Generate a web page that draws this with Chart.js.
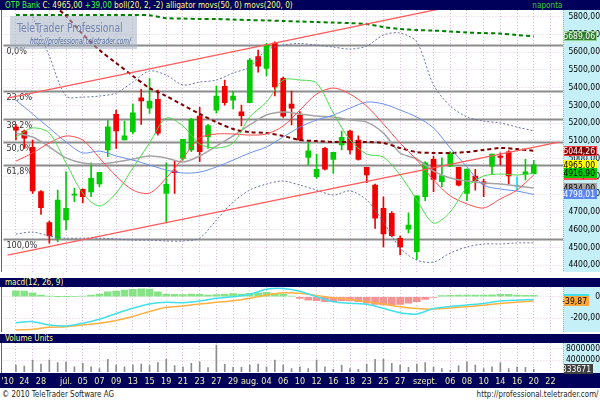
<!DOCTYPE html>
<html>
<head>
<meta charset="utf-8">
<title>OTP Bank</title>
<script src="https://cdn.jsdelivr.net/npm/chart.js@4.4.1/dist/chart.umd.min.js"></script>
<style>
  body { margin: 0; background: #fff; }
  #page { position: relative; width: 600px; height: 400px; overflow: hidden; background: #fff;
          font-family: "DejaVu Sans Condensed", "Liberation Sans", sans-serif; }
  canvas { position: absolute; left: 0; }
  .hdr { position: absolute; left: 0; width: 600px; background: #00005a; color: #ffff80;
         font-size: 9px; line-height: 10px; white-space: nowrap; }
  .hdr span.t { position: absolute; left: 5px; top: 0; transform: scaleX(0.9); transform-origin: left top; }
  #wm { position: absolute; left: 10px; top: 16px; width: 127px; height: 33px;
        background: rgba(168, 178, 196, 0.55); white-space: nowrap; overflow: hidden; }
  #wm .big { position: absolute; left: 7px; top: 5px; font-size: 12px; color: rgba(110, 130, 175, 0.95);
             transform: scaleX(0.86); transform-origin: left top; }
  #wm .url { position: absolute; left: 20px; top: 21px; font-size: 8px; font-style: italic; color: rgba(70, 95, 150, 0.9);
             transform: scaleX(0.82); transform-origin: left top; }
  .foot { position: absolute; top: 389px; font-size: 9px; color: #222; white-space: nowrap; transform: scaleX(0.88); }
</style>
</head>
<body>
<div id="page">
  <div class="hdr" style="top:0;height:10px;">
    <span class="t" id="title"></span>
    <span style="position:absolute;right:38px;top:0;color:#30d030;transform:scaleX(0.9);transform-origin:right top">naponta</span>
  </div>
  <canvas id="priceChart" width="600" height="262" style="top:10px"></canvas>
  <div class="hdr" style="top:278px;height:9px;"><span class="t" style="top:-1px">macd(12, 26, 9)</span></div>
  <canvas id="macdChart" width="600" height="45" style="top:287px"></canvas>
  <div class="hdr" style="top:334px;height:9px;"><span class="t" style="top:-1px">Volume Units</span></div>
  <canvas id="volChart" width="600" height="45" style="top:343px"></canvas>
  <div id="wm"><div class="big">TeleTrader Professional</div><div class="url">http://professional.teletrader.com/</div></div>
  <div class="foot" style="left:2px;transform-origin:left top">© 2010 TeleTrader Software AG</div>
  <div class="foot" style="right:2px;transform-origin:right top">http://professional.teletrader.com/</div>
</div>
<script>
// trading days on the axis (one empty day before, three after the data)
const dates = ['06-22','06-23','06-24','06-25','06-28','06-29','06-30','07-01','07-02','07-05',
  '07-06','07-07','07-08','07-09','07-12','07-13','07-14','07-15','07-16','07-19',
  '07-20','07-21','07-22','07-23','07-26','07-27','07-28','07-29','07-30','08-02',
  '08-03','08-04','08-05','08-06','08-09','08-10','08-11','08-12','08-13','08-16',
  '08-17','08-18','08-19','08-23','08-24','08-25','08-26','08-27','08-30','08-31',
  '09-01','09-02','09-03','09-06','09-07','09-08','09-09','09-10','09-13','09-14',
  '09-15','09-16','09-17','09-20','09-21','09-22','09-23'];
const tickText = {
  '06-22': "'10", '06-24': '24', '06-28': '28', '07-01': 'júl.', '07-05': '05', '07-07': '07',
  '07-09': '09', '07-13': '13', '07-15': '15', '07-19': '19', '07-21': '21', '07-23': '23',
  '07-27': '27', '07-29': '29', '08-02': 'aug.', '08-04': '04', '08-06': '06', '08-10': '10',
  '08-12': '12', '08-16': '16', '08-18': '18', '08-23': '23', '08-25': '25', '08-27': '27',
  '09-01': 'szept.', '09-06': '06', '09-08': '08', '09-10': '10', '09-14': '14', '09-16': '16',
  '09-20': '20', '09-22': '22'
};
const priceTicks = [4400, 4500, 4600, 4700, 4800, 4900, 5000, 5100, 5200, 5300, 5400, 5500, 5600, 5700, 5800];
const macdTicks = [-200, 0];
const volTicks = [4000000, 8000000];

// daily candles, 06-23 .. 09-20
const opens  = [5178,5156,5064,4814,4639,4551,4654,4794,4827,4813,4857,5049,5250,5105,5152,5343,5284,5334,4804,4930,
                5002,5049,5240,5124,5274,5408,5330,5264,5315,5575,5509,5652,5453,5308,5246,5007,4898,5058,4996,5077,
                5156,5105,4951,4851,4720,4692,4551,4603,4475,4785,4996,4870,4958,4951,4804,4902,4870,4958,5015,5039,
                4843,4912,4915];
const highs  = [5193,5161,5105,4820,4648,4823,4926,4833,4830,4977,4923,5218,5274,5212,5308,5391,5453,5387,4977,4987,
                5109,5227,5289,5193,5409,5443,5381,5302,5565,5612,5650,5659,5460,5381,5265,5089,5026,5064,5036,5155,
                5161,5128,4951,4857,4785,4701,4564,4695,4791,4983,5015,5005,5039,4951,4941,4940,4883,5026,5033,5045,
                4898,4996,4990];
const lows   = [5105,5058,4804,4686,4523,4532,4598,4757,4751,4785,4842,5011,5058,5105,5139,5193,5255,5133,4639,4804,
                4992,5039,4983,5058,5257,5302,5280,5184,5315,5488,5466,5353,5233,5190,5100,4964,4889,4936,4917,5049,
                5026,4992,4864,4607,4503,4560,4457,4582,4432,4763,4814,4842,4955,4846,4763,4823,4785,4913,4964,4857,
                4823,4880,4913];
const closes = [5161,5116,4818,4723,4564,4767,4720,4800,4785,4889,4923,5180,5157,5128,5259,5325,5325,5143,4855,4921,
                5109,5222,5039,5186,5353,5315,5353,5243,5556,5522,5640,5405,5240,5284,5105,5044,4940,4940,5036,5120,
                5049,4996,4908,4664,4575,4566,4503,4626,4791,4977,4883,4904,5030,4851,4941,4875,4857,5026,5007,4902,
                4843,4926,4965];
const volumes = [2300000,1900000,4000000,2600000,4000000,3100000,3300000,1700000,2900000,1700000,1100000,4200000,2300000,
                 1700000,2300000,2600000,2100000,3100000,4200000,2100000,1700000,2900000,3400000,1400000,9100000,2500000,
                 1500000,1500000,2300000,2600000,1700000,4000000,2300000,1100000,1700000,1100000,4000000,1700000,800000,
                 2300000,1100000,800000,2600000,4200000,4200000,2900000,2300000,1500000,2600000,3100000,1700000,1100000,
                 600000,2000000,3400000,2300000,1100000,1700000,3100000,1100000,1700000,1500000,833671];

// indicators, read every second day starting 06-23
const movs200   = [5810,5810,5810,5810,5810,5810,5810,5810,5808,5792,5790,5787,5787,5784,5781,5779,
                   5776,5773,5770,5767,5764,5759,5742,5731,5725,5722,5717,5711,5708,5705,5697,5689.06];
const movs50    = [null,null,5888,5804,5702,5612,5539,5466,5398,5353,5302,5252,5206,5167,5150,5144,
                   5128,5105,5099,5094,5094,5094,5088,5060,5037,5032,5032,5037,5049,5060,5054,5044.26];
const bollUpper = [null,5800,5578,5353,5347,5353,5370,5432,5494,5471,5415,5432,5443,5483,5516,5612,
                   5640,5649,5640,5629,5618,5635,5697,5708,5657,5415,5297,5235,5212,5201,5178,5156];
const bollMid   = [5144,5122,5066,5004,4975,4970,4981,4998,5015,5004,4981,5015,5071,5128,5190,5246,
                   5263,5252,5240,5235,5218,5206,5144,5032,4998,4930,4891,4874,4863,4857,4846,4834];
const bollLower = [4575,4586,4564,4552,4552,4552,4547,4541,4541,4536,4536,4552,4654,4755,4823,4857,
                   4874,4851,4823,4795,4818,4767,4643,4496,4428,4417,4468,4502,4519,4519,4525,4525];
const jaw       = [5330,5252,5173,5094,5032,5043,5015,4992,4964,4936,4919,4924,4953,4992,5032,5066,
                   5122,5178,5218,5246,5285,5319,5308,5274,5234,5173,5060,4953,4851,4829,4817,4798.01];
const teeth     = [4986,5032,5088,5128,5105,5004,4902,4823,4806,4891,5004,5116,5139,5139,5133,5139,
                   5184,5274,5364,5398,5364,5296,5195,5088,4992,4880,4790,4745,4722,4773,4823,4908];
const lips      = [5122,5173,5144,4975,4806,4733,4806,4947,5088,5229,5184,5083,5060,5088,5235,5319,
                   5443,5443,5426,5257,5105,5026,5009,4908,4767,4637,4699,4840,4902,4913,4908,4916.9];
const macdLine  = [-241,-231,-262,-271,-246,-209,-156,-107,-68,-52,-56,-40,-15,0,22,69,
                   76,51,0,-46,-61,-70,-107,-148,-160,-109,-91,-77,-63,-40,-32,-25];
const signalLine = [-308,-302,-283,-278,-262,-246,-220,-183,-137,-98,-86,-68,-52,-38,-15,16,
                    36,31,11,-9,-26,-46,-68,-93,-110,-115,-105,-92,-78,-63,-51,-39.87];
const macdHist  = [55,52,37,16,6,1,1,2,6,16,25,46,52,62,68,74,71,46,25,22,19,25,22,16,19,25,28,25,31,37,40,31,22,6,
                   -15,-31,-37,-46,-46,-37,-40,-46,-61,-71,-77,-77,-71,-61,-46,-24,-6,10,12,14,14,15,16,18,22,22,16,12,12];

// trend channel and fibonacci retracement
const upperTrendDates = ['06-22', '09-16'], upperTrendVals = [5341, 5934];
const lowerTrendDates = ['06-22', '09-23'], lowerTrendVals = [4456, 5093];
const fibHigh = 5640, fibLow = 4547;
const fibRatios = [0, 23.6, 38.2, 50, 61.8, 100];

const FONT = '"DejaVu Sans Condensed", "Liberation Sans", sans-serif';
const N = dates.length;
const fmt2 = v => v.toFixed(2).replace('.', ',');

function daily(vals) {               // first candle is the second axis day
  const out = new Array(N).fill(null);
  vals.forEach((v, i) => { out[i + 1] = v; });
  return out;
}
function everyOther(vals) {
  const out = new Array(N).fill(null);
  vals.forEach((v, i) => { out[1 + 2 * i] = v; });
  return out;
}
function twoPoint(ds, vals) {
  const out = new Array(N).fill(null);
  ds.forEach((d, i) => { out[dates.indexOf(d)] = vals[i]; });
  return out;
}
function line(data, color, width, dash) {
  return { type: 'line', data, borderColor: color, borderWidth: width, borderDash: dash || [],
           pointRadius: 0, tension: 0.3, spanGaps: true, fill: false, order: 0 };
}

const candleColors = daily(closes.map((c, i) => c > opens[i] ? '#00cc00' : (c < opens[i] ? '#f00000' : '#00dcff')));
const bodies = daily(opens.map((o, i) => [o, closes[i]]));
const wicks = daily(lows.map((l, i) => [l, highs[i]]));

document.getElementById('title').innerHTML =
  '<span style="color:#40ff40">OTP Bank</span> C: ' + fmt2(closes[closes.length - 1]) +
  ' <span style="color:#40ff40">+' + fmt2(closes[closes.length - 1] - closes[closes.length - 2]) + '</span>' +
  ' boll(20, 2, -2) alligator movs(50, 0) movs(200, 0)';

// ---- shared pieces ----
function xScale(showTicks) {
  return {
    offset: true,
    grid: { offset: false, drawTicks: false, lineWidth: 1,
            color: c => (c.index % 2 === 1 ? '#d8c0d8' : 'rgba(0,0,0,0)') },
    border: { display: false, dash: [1, 2] },
    ticks: showTicks
      ? { autoSkip: false, maxRotation: 0, minRotation: 0, padding: 3, color: '#ececb0',
          font: { family: FONT, size: 9 }, callback: (v, i) => tickText[dates[i]] || '' }
      : { display: false },
    afterFit: s => { s.height = showTicks ? 15 : 0; s.paddingLeft = 0; s.paddingRight = 0; }
  };
}
function yScale(min, max, ticks, fmt, pad) {
  return {
    position: 'right', min, max,
    afterBuildTicks: s => { s.ticks = ticks.map(v => ({ value: v })); },
    afterFit: s => { s.width = 37; s.paddingTop = 0; s.paddingBottom = 0; },
    grid: { drawTicks: false, color: '#e2d0e2', lineWidth: 1 },
    border: { display: false, dash: [1, 2] },
    ticks: { color: '#000', padding: pad, crossAlign: 'far', font: { family: FONT, size: 8.5 }, callback: fmt }
  };
}
const panelBg = {
  id: 'panelBg',
  beforeDraw(chart) {
    const { ctx, chartArea: a, width, height } = chart;
    ctx.save();
    ctx.fillStyle = '#c6f0f8';
    ctx.fillRect(a.right, 0, width - a.right, a.bottom);
    ctx.strokeStyle = '#d0b840';
    ctx.setLineDash([1, 1]);
    ctx.beginPath(); ctx.moveTo(a.right + 0.5, 0); ctx.lineTo(a.right + 0.5, a.bottom); ctx.stroke();
    ctx.setLineDash([]);
    ctx.strokeStyle = '#606078';
    ctx.beginPath(); ctx.moveTo(1.5, a.top); ctx.lineTo(1.5, a.bottom); ctx.stroke();
    if (chart.canvas.id === 'volChart') {
      ctx.fillStyle = '#00005a';
      ctx.fillRect(0, a.bottom, width, height - a.bottom);
    }
    ctx.restore();
  }
};
function valueBoxes(boxes, boxWidth) {
  return {
    id: 'valueBoxes',
    afterDraw(chart) {
      const { ctx, chartArea: a, width } = chart;
      const y = chart.scales.y;
      const w = boxWidth || (width - a.right - 4);
      ctx.save();
      ctx.font = '8.5px ' + FONT;
      ctx.textBaseline = 'middle';
      ctx.textAlign = 'right';
      boxes.forEach(b => {
        const py = Math.round(y.getPixelForValue(b.value));
        ctx.fillStyle = b.bg;
        ctx.fillRect(a.right + 1, py - 5, w, 10);
        if (b.edge) {
          ctx.strokeStyle = b.edge; ctx.lineWidth = 1;
          ctx.strokeRect(a.right + 1.5, py - 4.5, w - 1, 9);
        }
        ctx.fillStyle = b.fg;
        ctx.fillText(b.text, a.right + w - 1, py + 0.5);
      });
      ctx.restore();
    }
  };
}
const fibPlugin = {
  id: 'fib',
  beforeDatasetsDraw(chart) {
    const { ctx, chartArea: a } = chart;
    const y = chart.scales.y;
    ctx.save();
    ctx.font = '9px ' + FONT;
    ctx.textBaseline = 'top';
    fibRatios.forEach(r => {
      const py = Math.round(y.getPixelForValue(fibHigh - (fibHigh - fibLow) * r / 100)) + 0.5;
      ctx.strokeStyle = '#8c8c8c'; ctx.lineWidth = 2;
      ctx.beginPath(); ctx.moveTo(a.left, py); ctx.lineTo(a.right, py); ctx.stroke();
      ctx.fillStyle = '#333';
      ctx.fillText(r.toFixed(1).replace('.', ',') + '%', a.left + 3, py + 2);
    });
    ctx.restore();
  }
};
const common = {
  responsive: false, animation: false,
  layout: { padding: { left: 3.4, right: 0, top: 0, bottom: 0 } },
  plugins: { legend: { display: false }, tooltip: { enabled: false } }
};

// ---- price panel ----
new Chart(document.getElementById('priceChart'), {
  type: 'bar',
  data: {
    labels: dates,
    datasets: [
      line(twoPoint(upperTrendDates, upperTrendVals), '#ff5a5a', 1.3),
      line(twoPoint(lowerTrendDates, lowerTrendVals), '#ff5a5a', 1.3),
      line(everyOther(lips), '#48dc48', 1),
      line(everyOther(teeth), '#ff4c4c', 1),
      line(everyOther(jaw), '#6890f0', 1),
      line(everyOther(movs50), '#800000', 2, [4, 3]),
      line(everyOther(movs200), '#008000', 2, [4, 3]),
      line(everyOther(bollUpper), '#6874a8', 1, [2, 2]),
      line(everyOther(bollLower), '#6874a8', 1, [2, 2]),
      line(everyOther(bollMid), '#a4a4a4', 1.5),
      { type: 'bar', data: bodies, backgroundColor: candleColors, barThickness: 5, minBarLength: 1, grouped: false, order: 1 },
      { type: 'bar', data: wicks, backgroundColor: candleColors, barThickness: 1, grouped: false, order: 2 }
    ]
  },
  options: Object.assign({}, common, {
    scales: { x: xScale(false), y: yScale(4361, 5838, priceTicks, v => fmt2(v), 5) }
  }),
  plugins: [panelBg, fibPlugin, valueBoxes([
    { value: movs200[movs200.length - 1], text: fmt2(movs200[movs200.length - 1]), bg: '#2e7d2e', fg: '#ffffff', edge: '#90d090' },
    { value: movs50[movs50.length - 1], text: fmt2(movs50[movs50.length - 1]), bg: '#800000', fg: '#ffffff', edge: '#ff4040' },
    { value: teeth[teeth.length - 1], text: fmt2(teeth[teeth.length - 1]), bg: '#ff4c4c', fg: '#000' },
    { value: closes[closes.length - 1], text: fmt2(closes[closes.length - 1]), bg: '#ffff00', fg: '#000' },
    { value: lips[lips.length - 1], text: fmt2(lips[lips.length - 1]), bg: '#00c800', fg: '#000' },
    { value: bollMid[bollMid.length - 1], text: fmt2(bollMid[bollMid.length - 1]), bg: '#a4a4a4', fg: '#000' },
    { value: jaw[jaw.length - 1], text: fmt2(jaw[jaw.length - 1]), bg: '#5a84f0', fg: '#ffffff' }
  ])]
});

// ---- MACD panel ----
new Chart(document.getElementById('macdChart'), {
  type: 'bar',
  data: {
    labels: dates,
    datasets: [
      line(everyOther(macdLine), '#40e0ec', 1.5),
      line(everyOther(signalLine), '#ffb040', 1.5),
      { type: 'bar', data: daily(macdHist), barThickness: 7, grouped: false, order: 1,
        backgroundColor: daily(macdHist.map(v => v >= 0 ? '#86e486' : '#f59292')) }
    ]
  },
  options: Object.assign({}, common, {
    scales: { x: xScale(false), y: yScale(-327, 90, macdTicks, v => (v === 0 ? '0' : fmt2(v)), 6) }
  }),
  plugins: [panelBg, valueBoxes([
    { value: macdLine[macdLine.length - 1], text: '', bg: '#40e0ec', fg: '#000' },
    { value: signalLine[signalLine.length - 1], text: fmt2(signalLine[signalLine.length - 1]), bg: '#ffa838', fg: '#000' }
  ], 25)]
});

// ---- volume panel with the date axis ----
new Chart(document.getElementById('volChart'), {
  type: 'bar',
  data: {
    labels: dates,
    datasets: [
      { data: daily(volumes), backgroundColor: '#8c8c8c', barThickness: 1 }
    ]
  },
  options: Object.assign({}, common, {
    scales: { x: xScale(true), y: yScale(-440000, 9810000, volTicks, v => String(v), 4) }
  }),
  plugins: [panelBg, valueBoxes([
    { value: volumes[volumes.length - 1], text: String(volumes[volumes.length - 1]), bg: '#404040', fg: '#ffffff' }
  ], 29)]
});
</script>
</body>
</html>
